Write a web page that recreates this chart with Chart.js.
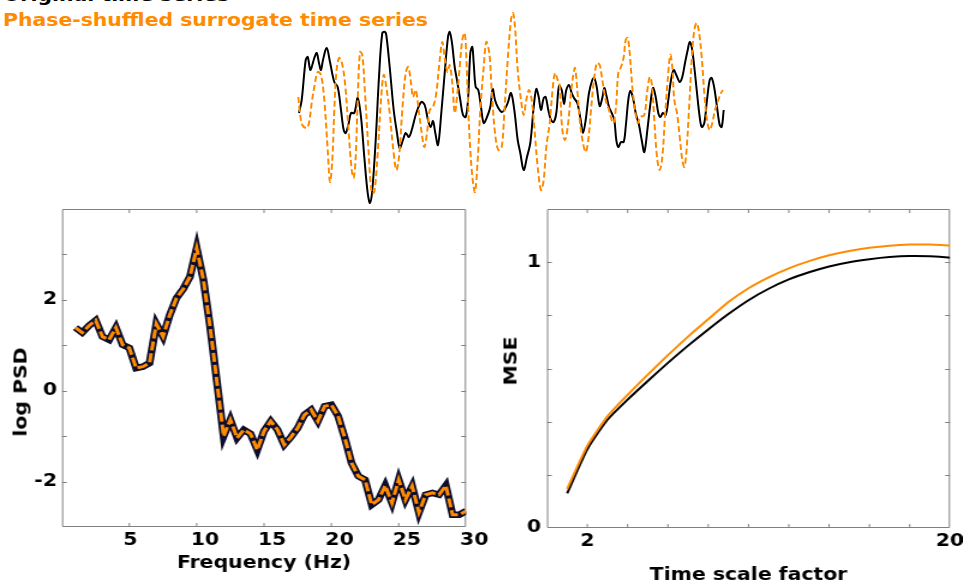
<!DOCTYPE html>
<html>
<head>
<meta charset="utf-8">
<script src="https://cdn.jsdelivr.net/npm/chart.js@4.4.1/dist/chart.umd.min.js"></script>
<style>
    html, body {
        margin: 0;
        padding: 0;
        width: 963px;
        height: 584px;
        overflow: hidden;
        background: #fff;
        position: relative;
        font-family: "DejaVu Sans", sans-serif;
    }
    canvas {
        position: absolute;
    }
    .heading {
        position: absolute;
        left: 3px;
        font-size: 17px;
        line-height: 17px;
        font-weight: bold;
        white-space: nowrap;
        transform-origin: 0 0;
        transform: scaleX(1.2);
    }
    #headOriginal { top: -13px; color: #000; }
    #headSurrogate { top: 11.5px; color: #ff8c00; }
    .ytitle {
        position: absolute;
        font-size: 17px;
        line-height: 17px;
        font-weight: bold;
        white-space: nowrap;
        transform: translate(-50%, -50%) rotate(-90deg) scaleX(1.2);
    }
    /* the reference glyphs are wide, so the two plot canvases are stretched sideways */
    .wide {
        transform-origin: 0 0;
        transform: scaleX(1.2);
    }
    #seriesChart { left: 290px; top: 0; }
    #psdChart { left: 0; top: 195px; }
    #mseChart { left: 490px; top: 195px; }
</style>
</head>
<body>
<div class="heading" id="headOriginal">Original time series</div>
<div class="heading" id="headSurrogate">Phase-shuffled surrogate time series</div>
<canvas id="psdChart" class="wide" width="408" height="389"></canvas>
<canvas id="mseChart" class="wide" width="394" height="389"></canvas>
<canvas id="seriesChart" width="445" height="212"></canvas>
<div class="ytitle" style="left:21px; top:392px;">log PSD</div>
<div class="ytitle" style="left:511px; top:361px;">MSE</div>

<script>
// top panel: original signal (solid black) and its phase-shuffled surrogate (dashed orange)
const timeOriginal = [1, 3.7, 7.7, 9.7, 12.3, 14.3, 16.3, 18.7, 21, 23,
    25, 28.7, 32, 36.3, 39.7, 43, 45.7, 47.7, 50.3, 53,
    56.3, 59.7, 63, 66.3, 69.7, 72, 74.3, 77.7, 81, 84.3,
    87, 88.3, 91.7, 95.7, 99, 101.7, 105, 107.7, 111, 114.3,
    118.3, 123.3, 126.7, 130, 132.7, 135, 137.3, 140, 143.3, 146.7,
    150, 151.7, 154, 156.7, 159, 162.3, 165, 167.7, 170, 172.3,
    174.3, 175.7, 177.7, 180.3, 183, 185.7, 189, 192.3, 194.7, 197,
    200.3, 203.7, 206.3, 209.7, 213, 216.3, 219.7, 222.3, 225.7, 229,
    232.3, 235.7, 238.3, 240.7, 243, 245.7, 247.7, 250.3, 253, 255.7,
    258.3, 261, 263.7, 266, 268.3, 271, 273.7, 276, 279.3, 282.7,
    285, 287.7, 291, 294.3, 296.3, 298.7, 301.7, 304.3, 306.3, 308.3,
    311, 313.7, 316.3, 318.3, 320.3, 323, 325.7, 327.7, 330.3, 332.3,
    335, 337.7, 341, 343.7, 346.3, 349.7, 352, 355, 357.7, 360.3,
    362.3, 365, 367.7, 370.3, 373, 375.7, 378.3, 381.7, 384.3, 387,
    389.7, 391.7, 393.7, 396.3, 399, 401.7, 403.7, 406.3, 409, 411.7,
    413.7, 416.3, 419, 421.7, 423.7, 425.7];
const valueOriginal = [-0.16, 0.10, 0.90, 0.96, 0.70, 0.80, 0.94, 1.04, 0.84, 0.70,
    0.90, 1.14, 0.86, 0.46, 0.36, -0.10, -0.50, -0.56, -0.40, -0.16,
    -0.16, 0.14, -0.24, -1.04, -1.76, -1.96, -1.70, -0.70, 0.56, 1.44,
    1.46, 1.40, 0.76, -0.10, -0.56, -0.86, -0.70, -0.56, -0.64, -0.46,
    -0.16, 0.06, 0.00, -0.30, -0.44, -0.32, -0.56, -0.80, -0.16, 0.64,
    1.36, 1.46, 1.24, 0.76, 0.50, 0.10, -0.20, -0.24, 0.10, 1.04,
    1.16, 0.84, 0.36, 0.30, -0.04, -0.36, -0.24, -0.04, 0.32, 0.10,
    -0.06, -0.14, -0.10, 0.04, 0.24, -0.10, -0.70, -0.96, -1.30, -1.04,
    -0.76, -0.04, 0.32, 0.16, -0.10, 0.14, 0.16, -0.10, -0.30, -0.34,
    -0.16, 0.38, 0.30, 0.02, 0.30, 0.40, 0.24, 0.14, 0.04, -0.30,
    -0.56, -0.30, 0.24, 0.50, 0.54, 0.36, -0.02, 0.14, 0.34, 0.20,
    -0.04, -0.16, -0.30, -0.70, -0.84, -0.74, -0.74, -0.44, 0.10, 0.28,
    0.14, -0.16, -0.40, -0.70, -0.94, -0.44, -0.04, 0.34, 0.16, -0.16,
    -0.24, -0.16, -0.20, 0.10, 0.50, 0.70, 0.60, 0.46, 0.56, 0.84,
    1.10, 1.26, 1.16, 0.76, 0.24, -0.24, -0.44, -0.36, 0.10, 0.50,
    0.54, 0.34, -0.04, -0.40, -0.44, -0.10];

const timeSurrogate = [0.3, 2, 4.3, 8.7, 11, 13.7, 16.3, 19.7, 23, 26.3,
    29.7, 32, 34.3, 36.3, 38.3, 41, 43.7, 47, 50.3, 53.7,
    55.7, 57.7, 59.7, 62, 64.3, 67, 70.3, 73.7, 76.3, 79.7,
    83, 85.7, 88.3, 91.7, 95, 98.3, 101, 104.3, 107.7, 110.3,
    113, 115, 117.7, 120.3, 123.3, 126.3, 129, 131.7, 135, 138.3,
    141.7, 144.3, 147, 149.7, 151.7, 154.3, 156.7, 159, 161.7, 164.3,
    166.7, 168.3, 170.3, 172.3, 174.7, 177, 179.7, 182.3, 185.7, 188.3,
    191.3, 193.7, 197, 200.3, 203.7, 206.3, 209.7, 213, 215, 217,
    219.7, 223, 225.7, 228.3, 231, 233.7, 236.3, 239.7, 243, 245.7,
    248.3, 251.7, 254.3, 257, 259.7, 261.5, 264.3, 267, 269.7, 273,
    275, 277, 279.3, 281.7, 285, 287.7, 290.3, 293, 296.3, 299,
    301.7, 304.3, 307.7, 311, 313.7, 315.7, 318.3, 320.3, 323, 325.7,
    327.7, 329.7, 331.7, 334.3, 337, 339.7, 342.3, 346.3, 349, 351.7,
    353.7, 356.3, 359, 361.7, 364.3, 367, 369.7, 372.3, 374.3, 376.3,
    379, 381.7, 384.3, 386.3, 388.3, 391, 393.7, 396.3, 398.7, 401,
    403.7, 406.3, 409, 411.7, 414.3, 417, 420.3, 423, 425];
const valueSurrogate = [0.16, -0.16, -0.40, -0.46, -0.36, 0.04, 0.36, 0.66, 0.60, 0.10,
    -0.90, -1.54, -1.10, -0.10, 0.64, 0.94, 0.86, 0.44, -0.44, -1.30,
    -1.46, -1.04, 0.10, 1.06, 1.00, 0.24, -0.84, -1.76, -1.74, -0.96,
    0.10, 0.60, 0.36, -0.16, -0.84, -1.30, -1.04, -0.10, 0.64, 0.76,
    0.44, 0.16, 0.30, -0.04, -0.50, -0.84, -0.56, -0.10, -0.04, 0.24,
    0.90, 1.26, 0.90, 0.66, 0.80, 0.44, -0.16, 0.16, 0.76, 1.30,
    1.44, 0.96, -0.10, -0.90, -1.50, -1.74, -1.10, -0.10, 0.76, 1.26,
    1.04, 0.30, -0.56, -0.90, -0.84, -0.16, 0.90, 1.70, 1.84, 1.56,
    0.70, 0.10, -0.20, 0.10, 0.30, 0.10, -0.44, -1.24, -1.70, -1.50,
    -0.84, -0.36, 0.24, 0.64, 0.50, 0.42, -0.50, -0.70, -0.44, 0.24,
    0.56, 0.74, 0.30, -0.30, -0.76, -0.94, -0.70, -0.10, 0.56, 0.84,
    0.80, 0.50, 0.10, -0.10, -0.30, -0.36, 0.04, 0.64, 0.76, 0.96,
    1.30, 1.34, 1.04, 0.36, -0.10, -0.36, -0.24, -0.20, 0.24, 0.56,
    0.44, -0.30, -1.04, -1.30, -1.04, -0.24, 0.50, 1.00, 0.76, 0.10,
    -0.16, -0.64, -1.10, -1.24, -0.96, -0.10, 0.90, 1.50, 1.64, 1.46,
    0.96, 0.24, -0.30, -0.50, -0.36, -0.10, 0.10, 0.24, 0.30];

// power spectrum (identical for both signals)
const psdFrequency = [1, 1.5, 2, 2.5, 3, 3.5, 4, 4.5, 5, 5.5,
    6, 6.5, 7, 7.5, 8, 8.5, 9, 9.5, 10, 10.5,
    11, 11.5, 12, 12.5, 13, 13.5, 14, 14.5, 15, 15.5,
    16, 16.5, 17, 17.5, 18, 18.5, 19, 19.5, 20, 20.5,
    21, 21.5, 22, 22.5, 23, 23.5, 24, 24.5, 25, 25.5,
    26, 26.5, 27, 27.5, 28, 28.5, 29, 29.5, 30];
const psdLog = [1.39, 1.28, 1.43, 1.55, 1.19, 1.12, 1.39, 1.01, 0.94, 0.50,
    0.53, 0.61, 1.47, 1.19, 1.67, 2.04, 2.24, 2.51, 3.14, 2.44,
    1.40, 0.20, -1.00, -0.64, -1.04, -0.86, -0.95, -1.30, -0.89, -0.67,
    -0.86, -1.19, -1.02, -0.82, -0.53, -0.42, -0.67, -0.34, -0.31, -0.56,
    -1.04, -1.59, -1.88, -1.96, -2.51, -2.40, -2.09, -2.47, -1.96, -2.40,
    -2.10, -2.68, -2.29, -2.25, -2.29, -2.09, -2.73, -2.73, -2.65];

// multiscale entropy
const mseScale = [1, 2, 3, 4, 5, 6, 7, 8, 9, 10, 11, 12, 13, 14, 15, 16, 17, 18, 19, 20];
const mseOriginal = [0.13, 0.296, 0.407, 0.483, 0.553, 0.621, 0.686, 0.747, 0.805, 0.857,
    0.900, 0.935, 0.962, 0.984, 1.000, 1.011, 1.019, 1.023, 1.022, 1.017];
const mseSurrogate = [0.147, 0.309, 0.420, 0.501, 0.577, 0.650, 0.720, 0.785, 0.850, 0.902,
    0.943, 0.977, 1.004, 1.026, 1.042, 1.054, 1.062, 1.066, 1.066, 1.063];

const ORANGE = "#ff8c00";
const FRAME = "#808080";
const STRETCH = 1.2;

// page pixels -> pixels inside a sideways-stretched canvas
const px = (v) => v / STRETCH;

Chart.defaults.font.family = "'DejaVu Sans', sans-serif";
Chart.defaults.color = "#000";

const toPoints = (xs, ys) => xs.map((x, i) => ({ x: x, y: ys[i] }));

// fixed axis size, and no extra room for labels that hang over the plot edge
const fixSize = (key, size) => (scale) => {
    scale[key] = size;
    scale.paddingLeft = 0;
    scale.paddingRight = 0;
    scale.paddingTop = 0;
    scale.paddingBottom = 0;
};

// box round the plot with small inward ticks on all four sides
const frameTicks = {
    id: "frameTicks",
    beforeDatasetsDraw(chart, args, opts) {
        if (!opts.enabled) {
            return;
        }
        const { ctx, chartArea: a, scales } = chart;
        const len = 4;
        ctx.save();
        ctx.strokeStyle = FRAME;
        ctx.lineWidth = 1;
        ctx.beginPath();
        ctx.rect(a.left + 0.5, a.top + 0.5, a.right - a.left - 1, a.bottom - a.top - 1);
        scales.x.ticks.forEach((t) => {
            if (t.value <= scales.x.min || t.value >= scales.x.max) {
                return;
            }
            const x = scales.x.getPixelForValue(t.value);
            ctx.moveTo(x, a.bottom);
            ctx.lineTo(x, a.bottom - len);
            ctx.moveTo(x, a.top);
            ctx.lineTo(x, a.top + len);
        });
        scales.y.ticks.forEach((t) => {
            if (t.value <= scales.y.min + 1e-9 || t.value >= scales.y.max - 1e-9) {
                return;
            }
            const y = Math.round(scales.y.getPixelForValue(t.value)) + 0.5;
            ctx.moveTo(a.left, y);
            ctx.lineTo(a.left + len, y);
            ctx.moveTo(a.right, y);
            ctx.lineTo(a.right - len, y);
        });
        ctx.stroke();
        ctx.restore();
    },
};
Chart.register(frameTicks);

const tickFont = { size: 17, weight: "bold" };
const titleFont = { size: 17, weight: "bold", lineHeight: 1 };

document.addEventListener("DOMContentLoaded", function () {
    new Chart(document.getElementById("seriesChart"), {
        type: "line",
        data: {
            datasets: [
                {
                    data: toPoints(timeSurrogate, valueSurrogate),
                    borderColor: ORANGE,
                    borderWidth: 2,
                    borderDash: [6, 3],
                    tension: 0.35,
                },
                {
                    data: toPoints(timeOriginal, valueOriginal),
                    borderColor: "#000",
                    borderWidth: 2,
                    tension: 0.35,
                },
            ],
        },
        options: {
            responsive: false,
            animation: false,
            devicePixelRatio: 1,
            clip: false,
            layout: { padding: { left: 8, right: 9, top: 0, bottom: 2 } },
            elements: { point: { radius: 0 } },
            plugins: { legend: { display: false }, tooltip: { enabled: false } },
            scales: {
                x: { type: "linear", min: 0, max: 428, display: false },
                y: { min: -2.1, max: 2.1, display: false },
            },
        },
    });

    // plot box: x 62..466, y 209..527 on the page
    new Chart(document.getElementById("psdChart"), {
        type: "line",
        data: {
            datasets: [
                {
                    data: toPoints(psdFrequency, psdLog),
                    borderColor: ORANGE,
                    borderWidth: 3,
                    borderDash: [9, 3],
                },
                {
                    data: toPoints(psdFrequency, psdLog),
                    borderColor: "#0e0e2c",
                    borderWidth: 6.5,
                },
            ],
        },
        options: {
            responsive: false,
            animation: false,
            devicePixelRatio: 1,
            layout: { padding: { left: 0, right: 408 - px(466), top: 14, bottom: 0 } },
            elements: { point: { radius: 0 }, line: { tension: 0 } },
            plugins: {
                legend: { display: false },
                tooltip: { enabled: false },
                frameTicks: { enabled: true },
            },
            scales: {
                x: {
                    type: "linear",
                    min: 0,
                    max: 30,
                    grid: { display: false, drawTicks: false },
                    border: { display: false },
                    ticks: {
                        stepSize: 5,
                        padding: 3,
                        align: "start",
                        labelOffset: -5,
                        autoSkip: false,
                        maxRotation: 0,
                        font: tickFont,
                        callback: (v) => (v === 0 ? "" : String(v)),
                    },
                    title: { display: true, text: "Frequency (Hz)", font: titleFont, padding: 11.5 },
                    afterFit: fixSize("height", 57),
                },
                y: {
                    min: -3,
                    max: 4,
                    grid: { display: false, drawTicks: false },
                    border: { display: false },
                    ticks: {
                        stepSize: 1,
                        padding: px(5),
                        autoSkip: false,
                        font: tickFont,
                        callback: (v) => (v === -2 || v === 0 || v === 2 ? String(v) : ""),
                    },
                    afterFit: fixSize("width", px(62)),
                },
            },
        },
    });

    // plot box: x 547..950, y 209..528 on the page
    new Chart(document.getElementById("mseChart"), {
        type: "line",
        data: {
            datasets: [
                {
                    data: toPoints(mseScale, mseSurrogate),
                    borderColor: ORANGE,
                    borderWidth: 2,
                },
                {
                    data: toPoints(mseScale, mseOriginal),
                    borderColor: "#000",
                    borderWidth: 2,
                },
            ],
        },
        options: {
            responsive: false,
            animation: false,
            devicePixelRatio: 1,
            layout: { padding: { left: 0, right: 394 - px(950 - 490), top: 14, bottom: 0 } },
            elements: { point: { radius: 0 }, line: { tension: 0.2 } },
            plugins: {
                legend: { display: false },
                tooltip: { enabled: false },
                frameTicks: { enabled: true },
            },
            scales: {
                x: {
                    type: "linear",
                    min: 0,
                    max: 20,
                    grid: { display: false, drawTicks: false },
                    border: { display: false },
                    ticks: {
                        stepSize: 2,
                        padding: 3,
                        autoSkip: false,
                        maxRotation: 0,
                        font: tickFont,
                        callback: (v) => (v === 2 || v === 20 ? String(v) : ""),
                    },
                    title: { display: true, text: "Time scale factor", font: titleFont, padding: 0 },
                    afterFit: fixSize("height", 56),
                },
                y: {
                    min: 0,
                    max: 1.2,
                    grid: { display: false, drawTicks: false },
                    border: { display: false },
                    ticks: {
                        stepSize: 0.2,
                        padding: px(6),
                        autoSkip: false,
                        font: tickFont,
                        callback: (v) => {
                            if (Math.abs(v) < 1e-9) {
                                return "0";
                            }
                            return Math.abs(v - 1) < 1e-9 ? "1" : "";
                        },
                    },
                    afterFit: fixSize("width", px(547 - 490)),
                },
            },
        },
    });
});
</script>
</body>
</html>
